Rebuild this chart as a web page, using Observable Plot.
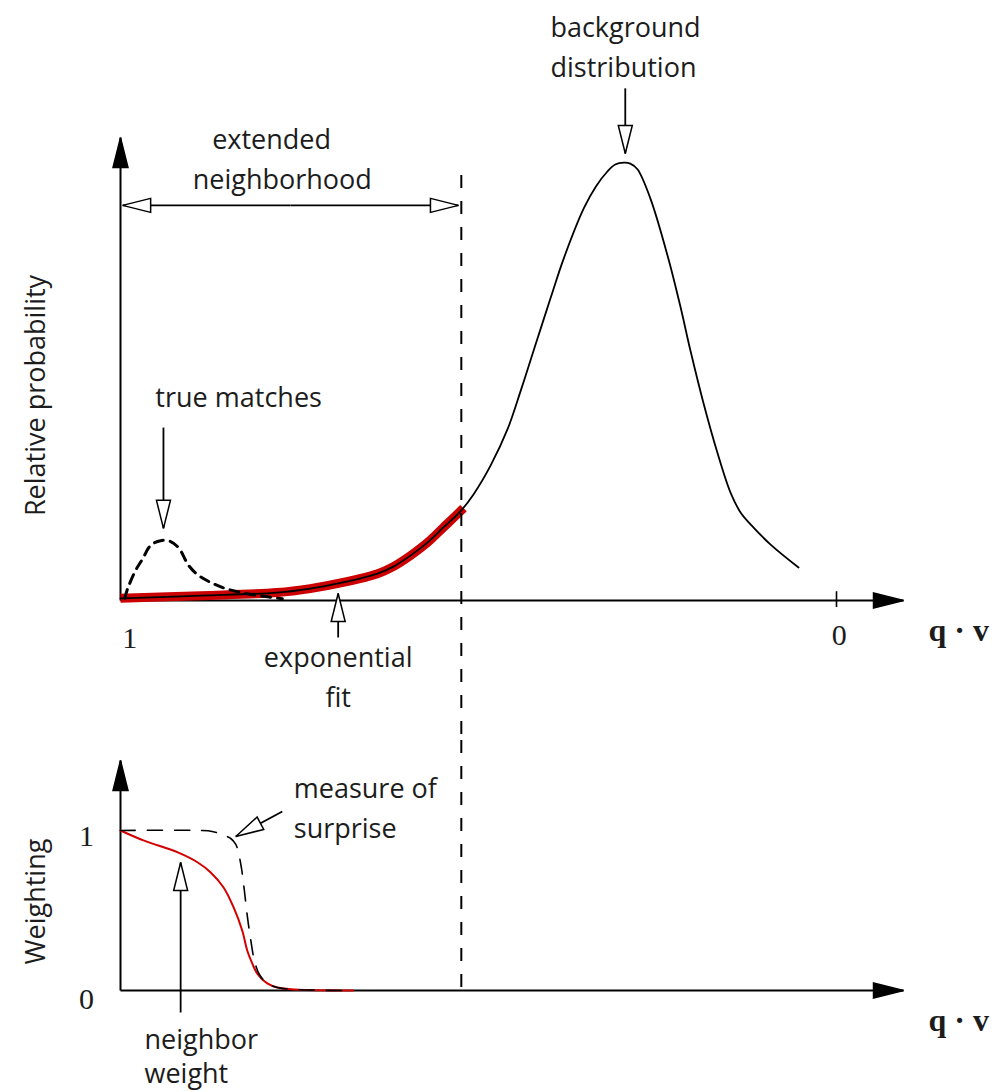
<!DOCTYPE html>
<html>
<head>
<meta charset="utf-8">
<script src="https://cdn.jsdelivr.net/npm/d3@7"></script>
<script src="https://cdn.jsdelivr.net/npm/@observablehq/plot@0.6"></script>
<style>
  html, body { margin: 0; padding: 0; background: #fff; }
  #chart { width: 992px; height: 1092px; overflow: hidden; background: #fff; }
  #chart svg { display: block; }
</style>
</head>
<body>
<div id="chart"></div>
<script>
// ---------------- data (x = q·v, from 1 on the left to 0) ----------------
// Background distribution (relative probability, peak = 1)
const backgroundQ = [1.000, 0.888, 0.781, 0.735, 0.689, 0.641, 0.619, 0.595, 0.571, 0.549, 0.524, 0.507, 0.483, 0.459, 0.441, 0.423, 0.399, 0.381, 0.353, 0.336, 0.320, 0.309, 0.297, 0.288, 0.278, 0.260, 0.236, 0.218, 0.204, 0.186, 0.166, 0.148, 0.134, 0.120, 0.092, 0.053];
const backgroundP = [0.005, 0.011, 0.018, 0.027, 0.041, 0.061, 0.077, 0.102, 0.132, 0.166, 0.205, 0.241, 0.307, 0.391, 0.477, 0.568, 0.689, 0.777, 0.891, 0.941, 0.975, 0.991, 0.995, 0.993, 0.980, 0.914, 0.784, 0.668, 0.568, 0.450, 0.334, 0.245, 0.200, 0.173, 0.127, 0.075];
// Exponential fit over the extended neighborhood
const expFitQ = [1.000, 0.888, 0.781, 0.735, 0.689, 0.641, 0.619, 0.595, 0.571, 0.549, 0.524, 0.521];
const expFitP = [0.005, 0.011, 0.018, 0.027, 0.041, 0.061, 0.077, 0.102, 0.132, 0.166, 0.205, 0.210];
// True matches
const trueQ = [0.994, 0.990, 0.979, 0.969, 0.958, 0.944, 0.930, 0.918, 0.905, 0.891, 0.874, 0.853, 0.825, 0.797, 0.774];
const trueP = [0.005, 0.027, 0.068, 0.095, 0.125, 0.136, 0.134, 0.118, 0.080, 0.057, 0.041, 0.027, 0.016, 0.009, 0.004];
// Extended neighborhood boundary
const boundaryQ = 0.524;
// Lower panel: measure of surprise (dashed) and neighbor weight (red)
const surpriseQ = [1.000, 0.888, 0.872, 0.858, 0.846, 0.839, 0.835, 0.831, 0.827, 0.823, 0.818, 0.813, 0.806, 0.795, 0.781, 0.756, 0.675];
const surpriseW = [1.000, 1.000, 0.994, 0.975, 0.950, 0.913, 0.856, 0.763, 0.625, 0.469, 0.313, 0.188, 0.100, 0.044, 0.019, 0.006, 0.000];
const weightQ = [1.000, 0.968, 0.920, 0.892, 0.874, 0.856, 0.842, 0.830, 0.823, 0.816, 0.809, 0.795, 0.781, 0.756, 0.675];
const weightW = [1.000, 0.938, 0.863, 0.800, 0.738, 0.644, 0.519, 0.375, 0.250, 0.169, 0.106, 0.044, 0.019, 0.006, 0.000];

// Callout arrows (tail -> tip, in data units)
const topArrowTailQ = [0.7625, 0.7625, 0.295, 0.940, 0.696];
const topArrowTailP = [0.898, 0.898, 1.164, 0.393, -0.084];
const topArrowTipQ  = [0.997, 0.528, 0.295, 0.940, 0.696];
const topArrowTipP  = [0.898, 0.898, 1.016, 0.164, 0.016];
const botArrowTailQ = [0.774, 0.916];
const botArrowTailW = [1.119, -0.1375];
const botArrowTipQ  = [0.839, 0.916];
const botArrowTipW  = [0.9625, 0.800];

// Axis extents
const axisEndQ = -0.0936;
const topAxisEndP = 1.052;
const botAxisEndW = 1.4375;
const tickQ = [0];

// Labels
const topLabels = ["extended", "neighborhood", "background", "distribution", "true matches", "exponential", "fit"];
const topLabelQ = [0.789, 0.774, 0.2947, 0.2975, 0.835, 0.696, 0.696];
const topLabelP = [1.027, 0.936, 1.280, 1.189, 0.439, -0.150, -0.241];
const topTickLabels = ["1", "0"];
const topTickQ = [0.987, -0.004];
const topTickP = [-0.107, -0.102];
const botLabels = ["measure of", "surprise", "neighbor", "weight"];
const botLabelQ = [0.758, 0.758, 0.9665, 0.9665];
const botLabelW = [1.206, 0.956, -0.3625, -0.58];
const botTickLabels = ["1", "0"];
const botTickQ = [1.0475, 1.0475];
const botTickW = [0.906, -0.1125];
const xAxisLabel = "q · v";
const topYLabel = "Relative probability";
const botYLabel = "Weighting";

// ---------------- helpers ----------------
const sans = "'Open Sans', 'DejaVu Sans', sans-serif";
const serif = "'Liberation Serif', 'DejaVu Serif', serif";
const ink = "#1c1c1c";
const red = "#cc0000";

const X = {domain: [1, 0], range: [120, 836]};
const Ytop = {domain: [0, 1], range: [600, 160]};
const Ybot = {domain: [0, 1], range: [250, 90]};

const openHead = {draw(c) { c.moveTo(0, 0); c.lineTo(7, 28); c.lineTo(-7, 28); c.closePath(); }};
const solidHead = {draw(c) { c.moveTo(0, 0); c.lineTo(7.5, 30); c.lineTo(-7.5, 30); c.closePath(); }};

const zipXY = (qs, vs) => qs.map((q, i) => ({q, v: vs[i]}));
const texts = (labels, qs, vs) => labels.map((t, i) => ({t, q: qs[i], v: vs[i]}));

function arrows(tailQ, tailV, tipQ, tipV, yOpt, symbol, fill, shaftWidth) {
  const sx = Plot.scale({x: X});
  const sy = Plot.scale({y: yOpt});
  const rows = tailQ.map((_, i) => {
    const dx = sx.apply(tipQ[i]) - sx.apply(tailQ[i]);
    const dy = sy.apply(tipV[i]) - sy.apply(tailV[i]);
    return {q1: tailQ[i], v1: tailV[i], q2: tipQ[i], v2: tipV[i], r: Math.atan2(dx, -dy) * 180 / Math.PI};
  });
  return [
    Plot.link(rows, {x1: "q1", y1: "v1", x2: "q2", y2: "v2", stroke: "black", strokeWidth: shaftWidth}),
    Plot.dot(rows, {x: "q2", y: "v2", symbol, rotate: "r", fill, stroke: "black", strokeWidth: 1.5, strokeLinejoin: "miter"})
  ];
}

// ---------------- top panel ----------------
const topPlot = Plot.plot({
  width: 992, height: 740, margin: 0,
  x: {...X, axis: null},
  y: {...Ytop, axis: null},
  marks: [
    // axes
    ...arrows([1, 1], [0, 0], [1, axisEndQ], [topAxisEndP, 0], Ytop, solidHead, "black", 2),
    Plot.ruleX(tickQ, {y1: -0.016, y2: 0.02, stroke: "black", strokeWidth: 1.6}),
    // exponential fit (thick red)
    Plot.line(zipXY(expFitQ, expFitP), {x: "q", y: "v", curve: "catmull-rom", stroke: red, strokeWidth: 9, strokeLinecap: "butt"}),
    // background distribution
    Plot.line(zipXY(backgroundQ, backgroundP), {x: "q", y: "v", curve: "catmull-rom", stroke: "black", strokeWidth: 1.8}),
    // true matches
    Plot.line(zipXY(trueQ, trueP), {x: "q", y: "v", curve: "catmull-rom", stroke: "black", strokeWidth: 3, strokeDasharray: "9,7"}),
    // neighborhood boundary
    Plot.ruleX([boundaryQ], {y1: 0.966, y2: -0.318, stroke: "black", strokeWidth: 2, strokeDasharray: "13,13"}),
    // callouts
    ...arrows(topArrowTailQ, topArrowTailP, topArrowTipQ, topArrowTipP, Ytop, openHead, "white", 1.8),
    // labels
    Plot.text(texts(topLabels, topLabelQ, topLabelP), {x: "q", y: "v", text: "t", lineAnchor: "bottom", textAnchor: "middle", fontFamily: sans, fontSize: 27, fill: ink}),
    Plot.text(texts(topTickLabels, topTickQ, topTickP), {x: "q", y: "v", text: "t", lineAnchor: "bottom", textAnchor: "middle", fontFamily: serif, fontSize: 30, fill: ink}),
    Plot.text(texts([xAxisLabel], [-0.1285], [-0.091]), {x: "q", y: "v", text: "t", lineAnchor: "bottom", textAnchor: "start", fontFamily: serif, fontWeight: "bold", fontSize: 32, fill: ink}),
    Plot.text(texts([topYLabel], [1.105], [0.466]), {x: "q", y: "v", text: "t", lineAnchor: "bottom", textAnchor: "middle", rotate: -90, fontFamily: sans, fontSize: 27, fill: ink})
  ]
});

// ---------------- bottom panel ----------------
const bottomPlot = Plot.plot({
  width: 992, height: 352, margin: 0,
  x: {...X, axis: null},
  y: {...Ybot, axis: null},
  marks: [
    ...arrows([1, 1], [0, 0], [1, axisEndQ], [botAxisEndW, 0], Ybot, solidHead, "black", 2),
    Plot.ruleX([boundaryQ], {y1: 1.5625, y2: 0, stroke: "black", strokeWidth: 2, strokeDasharray: "13,13"}),
    Plot.line(zipXY(weightQ, weightW), {x: "q", y: "v", curve: "catmull-rom", stroke: "#d40000", strokeWidth: 2}),
    Plot.line(zipXY(surpriseQ, surpriseW), {x: "q", y: "v", curve: "catmull-rom", stroke: "black", strokeWidth: 1.6, strokeDasharray: "15,12"}),
    ...arrows(botArrowTailQ, botArrowTailW, botArrowTipQ, botArrowTipW, Ybot, openHead, "white", 1.8),
    Plot.text(texts(botLabels, botLabelQ, botLabelW), {x: "q", y: "v", text: "t", lineAnchor: "bottom", textAnchor: "start", fontFamily: sans, fontSize: 27, fill: ink}),
    Plot.text(texts(botTickLabels, botTickQ, botTickW), {x: "q", y: "v", text: "t", lineAnchor: "bottom", textAnchor: "middle", fontFamily: serif, fontSize: 30, fill: ink}),
    Plot.text(texts([xAxisLabel], [-0.1285], [-0.256]), {x: "q", y: "v", text: "t", lineAnchor: "bottom", textAnchor: "start", fontFamily: serif, fontWeight: "bold", fontSize: 32, fill: ink}),
    Plot.text(texts([botYLabel], [1.106], [0.556]), {x: "q", y: "v", text: "t", lineAnchor: "bottom", textAnchor: "middle", rotate: -90, fontFamily: sans, fontSize: 27, fill: ink})
  ]
});

const chart = document.getElementById("chart");
chart.appendChild(topPlot);
chart.appendChild(bottomPlot);
</script>
</body>
</html>
